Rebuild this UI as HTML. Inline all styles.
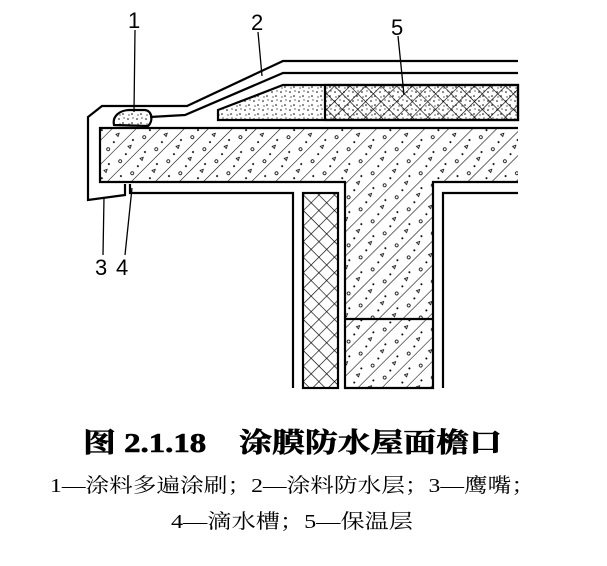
<!DOCTYPE html>
<html><head><meta charset="utf-8"><style>
html,body{margin:0;padding:0;background:#fff;}
svg{display:block;}
</style></head><body>
<svg width="607" height="566" viewBox="0 0 607 566" xmlns="http://www.w3.org/2000/svg">
<defs>
<pattern id="conc" width="17" height="34" patternUnits="userSpaceOnUse" patternTransform="rotate(45)">
<line x1="0" y1="0" x2="0" y2="34" stroke="#000" stroke-width="1.1"/>
<circle cx="6" cy="5" r="1" fill="#000"/><circle cx="11" cy="20" r="1" fill="#000"/>
<path d="M7 13 l3 0 l-1.5 -3 z" fill="none" stroke="#000" stroke-width="0.8"/>
<circle cx="12" cy="29" r="1.5" fill="none" stroke="#000" stroke-width="0.8"/>
</pattern>
<pattern id="hatch" width="11" height="11" patternUnits="userSpaceOnUse" patternTransform="rotate(45)">
<line x1="0" y1="0" x2="0" y2="11" stroke="#000" stroke-width="1.3"/>
<line x1="0" y1="0" x2="11" y2="0" stroke="#000" stroke-width="1.3"/>
</pattern>
<pattern id="sand" width="9" height="9" patternUnits="userSpaceOnUse">
<circle cx="2" cy="2" r="0.8" fill="#000"/><circle cx="6" cy="6" r="0.8" fill="#000"/><circle cx="7" cy="1" r="0.6" fill="#000"/><circle cx="3" cy="7" r="0.6" fill="#000"/>
</pattern>
</defs>
<g fill="none" stroke="#000" stroke-width="2.2">
<polyline points="125,184 125,195 88,200 88,117 102,106 187,106 283,61 518,61"/>
<polyline points="150,117 185,115 283,73 518,73"/>
<polygon points="218,110 283,85 518,85 518,120 218,120" fill="url(#sand)"/>
<rect x="325" y="85" width="193" height="35" fill="url(#hatch)"/>
<path d="M114,125 C112,116 120,110 130,110 L145,110 C153,111 153,122 148,126 Z" fill="url(#sand)"/>
<path d="M518,128 L100,128 L100,182 L345,182 L345,388 L433,388 L433,182 L518,182" fill="url(#conc)"/>
<line x1="345" y1="319" x2="433" y2="319"/>
<polyline points="130,184 130,193 293,193 293,388"/>
<polyline points="443,388 443,193 518,193"/>
<rect x="303" y="193" width="35" height="195" fill="url(#hatch)"/>
</g>
<g stroke="#000" stroke-width="1.3" fill="none">
<line x1="135" y1="30" x2="134" y2="112"/>
<line x1="258" y1="32" x2="262" y2="76"/>
<line x1="398" y1="36" x2="404" y2="95"/>
<line x1="103" y1="255" x2="104" y2="197"/>
<line x1="125" y1="255" x2="132" y2="188"/>
</g>
<g font-family="Liberation Sans, sans-serif" font-size="22" fill="#000">
<text x="128" y="28">1</text>
<text x="251" y="30">2</text>
<text x="391" y="35">5</text>
<text x="95" y="275">3</text>
<text x="116" y="275">4</text>
</g>
<text x="83" y="452" font-family="Liberation Serif, 'Noto Serif CJK SC', serif" font-weight="bold" font-size="27" textLength="419" lengthAdjust="spacingAndGlyphs" stroke="#000" stroke-width="0.6">图 2.1.18　涂膜防水屋面檐口</text>
<text x="50" y="492" font-family="Liberation Serif, 'Noto Serif CJK SC', serif" font-size="20" textLength="485" lengthAdjust="spacingAndGlyphs">1—涂料多遍涂刷；2—涂料防水层；3—鹰嘴；</text>
<text x="171" y="528" font-family="Liberation Serif, 'Noto Serif CJK SC', serif" font-size="20" textLength="242" lengthAdjust="spacingAndGlyphs">4—滴水槽；5—保温层</text>
</svg>
</body></html>
